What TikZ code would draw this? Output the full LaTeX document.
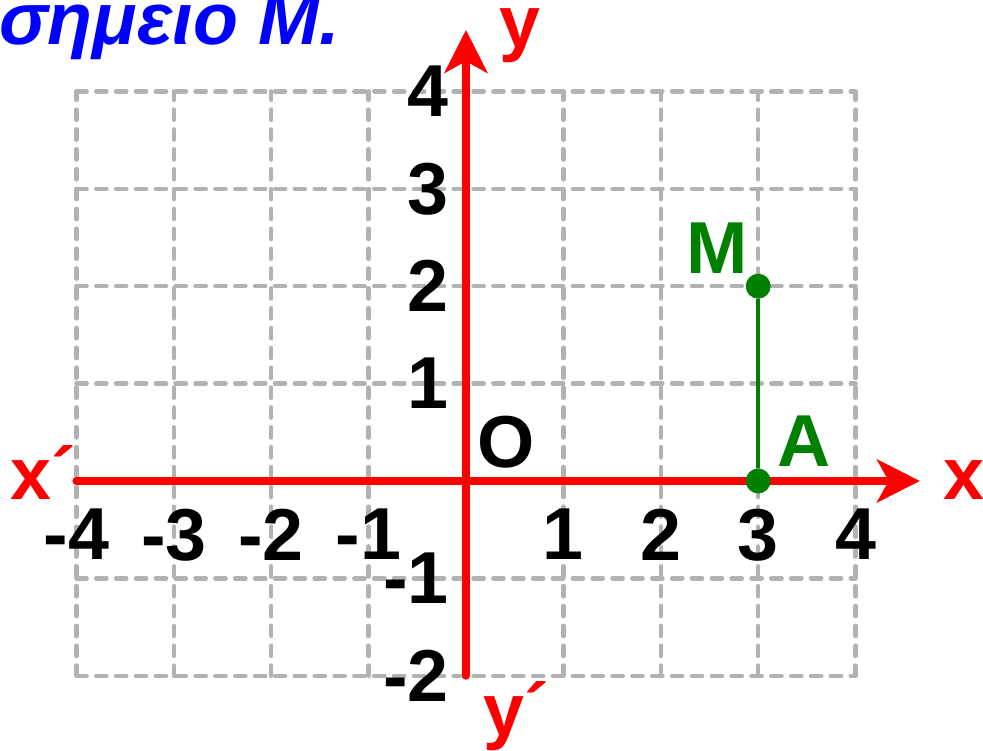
\documentclass[tikz,border=0pt]{standalone}
\usepackage{fontspec}
\setmainfont{Liberation Sans}
\usetikzlibrary{arrows.meta}
\definecolor{gridgray}{RGB}{178,178,178}
\definecolor{ptgreen}{RGB}{0,128,0}
\definecolor{axred}{RGB}{255,0,0}
\definecolor{titleblue}{RGB}{0,0,255}
\begin{document}
\begin{tikzpicture}[
  lbl/.style={inner sep=0pt, font=\fontsize{21.5}{24}\selectfont\bfseries},
  ticklbl/.style={lbl, text=black},
  axlbl/.style={lbl, text=axred},
  ptlbl/.style={lbl, text=ptgreen},
  gridline/.style={gridgray, line width=1.3pt, dash pattern=on 3.0pt off 2.8pt, line cap=round},
  axisline/.style={axred, line width=2.3pt, line cap=round, -{Stealth[length=0.44cm,width=0.44cm,inset=0.12cm]}},
  ptdot/.style={circle, fill=ptgreen, inner sep=0pt, minimum size=0.256cm},
  seg/.style={ptgreen, line width=1.2pt}
]
\useasboundingbox (-4.784,-2.772) rectangle (5.308,4.938);

% grid
\draw[gridline] (-4,-2) grid (4,4);

% axes
\coordinate (xs) at (-4,0);
\coordinate (xe) at (4.66,0);
\coordinate (ys) at (0,-2);
\coordinate (ye) at (0,4.63);
\draw[axisline] (xs) -- (xe);
\draw[axisline] (ys) -- (ye);

% axis labels
\node[axlbl, anchor=base] (lx) at (5.113,-0.195) {x};
\node[axlbl, anchor=base west] (lxp) at (-4.68,-0.195) {x´};
\node[axlbl, anchor=base] (ly) at (0.554,4.446) {y};
\node[axlbl, anchor=base west] (lyp) at (0.174,-2.608) {y´};

% x tick labels
\foreach \v/\t in {-4/-4,-3/-3,-2/-2,-1/-1,1/1,2/2,3/3,4/4}
  \node[ticklbl, anchor=north] (tx\v) at (\v,-0.28) {\t};

% y tick labels
\foreach \v/\t in {-2/-2,-1/-1,1/1,2/2,3/3,4/4}
  \node[ticklbl, anchor=east] (ty\v) at (-0.17,\v) {\t};

% origin
\node[ticklbl] (O) at (0.41,0.40) {O};

% points
\node[ptdot] (A) at (3,0) {};
\node[ptdot] (M) at (3,2) {};
\draw[seg] (A) -- (M);
\node[ptlbl] (lM) at (2.577,2.392) {M};
\node[ptlbl] (lA) at (3.470,0.411) {A};

% title
\node[lbl, text=titleblue, anchor=base west, font=\fontsize{21.5}{24}\selectfont\bfseries\itshape] (title) at (-4.80,4.476) {σημειο Μ.};
\end{tikzpicture}
\end{document}
